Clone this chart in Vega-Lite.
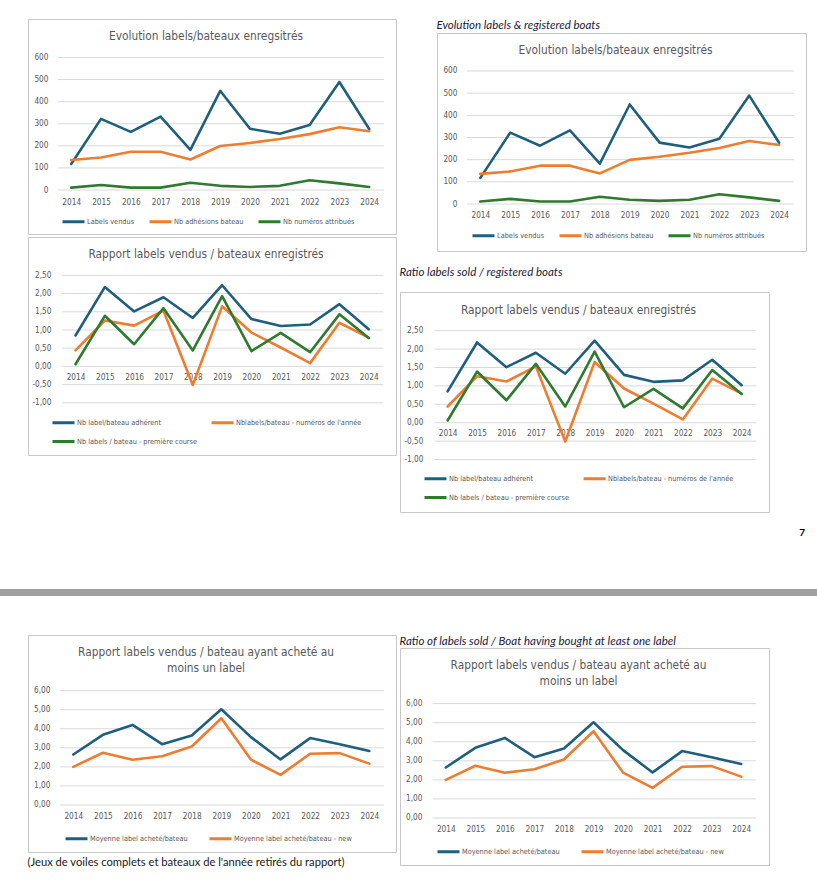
{
  "$schema": "https://vega.github.io/schema/vega-lite/v6.json",
  "background": "white",
  "padding": {"left": 0, "top": 18, "right": 0, "bottom": 0},
  "spacing": 38,
  "resolve": {"scale": {"color": "independent"}, "legend": {"color": "independent"}},
  "datasets": {
    "evo": [
      {"year": 2014, "series": "Labels vendus", "value": 118},
      {"year": 2015, "series": "Labels vendus", "value": 322},
      {"year": 2016, "series": "Labels vendus", "value": 263},
      {"year": 2017, "series": "Labels vendus", "value": 332},
      {"year": 2018, "series": "Labels vendus", "value": 182},
      {"year": 2019, "series": "Labels vendus", "value": 449},
      {"year": 2020, "series": "Labels vendus", "value": 277},
      {"year": 2021, "series": "Labels vendus", "value": 255},
      {"year": 2022, "series": "Labels vendus", "value": 294},
      {"year": 2023, "series": "Labels vendus", "value": 489},
      {"year": 2024, "series": "Labels vendus", "value": 276},
      {"year": 2014, "series": "Nb adhésions bateau", "value": 136},
      {"year": 2015, "series": "Nb adhésions bateau", "value": 147},
      {"year": 2016, "series": "Nb adhésions bateau", "value": 173},
      {"year": 2017, "series": "Nb adhésions bateau", "value": 173},
      {"year": 2018, "series": "Nb adhésions bateau", "value": 138},
      {"year": 2019, "series": "Nb adhésions bateau", "value": 199},
      {"year": 2020, "series": "Nb adhésions bateau", "value": 213},
      {"year": 2021, "series": "Nb adhésions bateau", "value": 231},
      {"year": 2022, "series": "Nb adhésions bateau", "value": 253},
      {"year": 2023, "series": "Nb adhésions bateau", "value": 284},
      {"year": 2024, "series": "Nb adhésions bateau", "value": 266},
      {"year": 2014, "series": "Nb numéros attribués", "value": 11},
      {"year": 2015, "series": "Nb numéros attribués", "value": 23},
      {"year": 2016, "series": "Nb numéros attribués", "value": 11},
      {"year": 2017, "series": "Nb numéros attribués", "value": 11},
      {"year": 2018, "series": "Nb numéros attribués", "value": 33},
      {"year": 2019, "series": "Nb numéros attribués", "value": 19},
      {"year": 2020, "series": "Nb numéros attribués", "value": 14},
      {"year": 2021, "series": "Nb numéros attribués", "value": 19},
      {"year": 2022, "series": "Nb numéros attribués", "value": 44},
      {"year": 2023, "series": "Nb numéros attribués", "value": 30},
      {"year": 2024, "series": "Nb numéros attribués", "value": 14}
    ],
    "ratio": [
      {"year": 2014, "series": "Nb label/bateau adhérent", "value": 0.85},
      {"year": 2015, "series": "Nb label/bateau adhérent", "value": 2.18},
      {"year": 2016, "series": "Nb label/bateau adhérent", "value": 1.51},
      {"year": 2017, "series": "Nb label/bateau adhérent", "value": 1.9},
      {"year": 2018, "series": "Nb label/bateau adhérent", "value": 1.33},
      {"year": 2019, "series": "Nb label/bateau adhérent", "value": 2.23},
      {"year": 2020, "series": "Nb label/bateau adhérent", "value": 1.3},
      {"year": 2021, "series": "Nb label/bateau adhérent", "value": 1.11},
      {"year": 2022, "series": "Nb label/bateau adhérent", "value": 1.15},
      {"year": 2023, "series": "Nb label/bateau adhérent", "value": 1.71},
      {"year": 2024, "series": "Nb label/bateau adhérent", "value": 1.02},
      {"year": 2014, "series": "Nblabels/bateau - numéros de l'année", "value": 0.44},
      {"year": 2015, "series": "Nblabels/bateau - numéros de l'année", "value": 1.26},
      {"year": 2016, "series": "Nblabels/bateau - numéros de l'année", "value": 1.12},
      {"year": 2017, "series": "Nblabels/bateau - numéros de l'année", "value": 1.53},
      {"year": 2018, "series": "Nblabels/bateau - numéros de l'année", "value": -0.51},
      {"year": 2019, "series": "Nblabels/bateau - numéros de l'année", "value": 1.65},
      {"year": 2020, "series": "Nblabels/bateau - numéros de l'année", "value": 0.93},
      {"year": 2021, "series": "Nblabels/bateau - numéros de l'année", "value": 0.52},
      {"year": 2022, "series": "Nblabels/bateau - numéros de l'année", "value": 0.09},
      {"year": 2023, "series": "Nblabels/bateau - numéros de l'année", "value": 1.2},
      {"year": 2024, "series": "Nblabels/bateau - numéros de l'année", "value": 0.79},
      {"year": 2014, "series": "Nb labels / bateau - première course", "value": 0.06},
      {"year": 2015, "series": "Nb labels / bateau - première course", "value": 1.39},
      {"year": 2016, "series": "Nb labels / bateau - première course", "value": 0.61},
      {"year": 2017, "series": "Nb labels / bateau - première course", "value": 1.6},
      {"year": 2018, "series": "Nb labels / bateau - première course", "value": 0.44},
      {"year": 2019, "series": "Nb labels / bateau - première course", "value": 1.93},
      {"year": 2020, "series": "Nb labels / bateau - première course", "value": 0.42},
      {"year": 2021, "series": "Nb labels / bateau - première course", "value": 0.92},
      {"year": 2022, "series": "Nb labels / bateau - première course", "value": 0.39},
      {"year": 2023, "series": "Nb labels / bateau - première course", "value": 1.43},
      {"year": 2024, "series": "Nb labels / bateau - première course", "value": 0.78}
    ],
    "avg": [
      {"year": 2014, "series": "Moyenne label acheté/bateau", "value": 2.65},
      {"year": 2015, "series": "Moyenne label acheté/bateau", "value": 3.68},
      {"year": 2016, "series": "Moyenne label acheté/bateau", "value": 4.2},
      {"year": 2017, "series": "Moyenne label acheté/bateau", "value": 3.19},
      {"year": 2018, "series": "Moyenne label acheté/bateau", "value": 3.65},
      {"year": 2019, "series": "Moyenne label acheté/bateau", "value": 5.02},
      {"year": 2020, "series": "Moyenne label acheté/bateau", "value": 3.56},
      {"year": 2021, "series": "Moyenne label acheté/bateau", "value": 2.39},
      {"year": 2022, "series": "Moyenne label acheté/bateau", "value": 3.51},
      {"year": 2023, "series": "Moyenne label acheté/bateau", "value": 3.19},
      {"year": 2024, "series": "Moyenne label acheté/bateau", "value": 2.83},
      {"year": 2014, "series": "Moyenne label acheté/bateau - new", "value": 2.0},
      {"year": 2015, "series": "Moyenne label acheté/bateau - new", "value": 2.74},
      {"year": 2016, "series": "Moyenne label acheté/bateau - new", "value": 2.37},
      {"year": 2017, "series": "Moyenne label acheté/bateau - new", "value": 2.56},
      {"year": 2018, "series": "Moyenne label acheté/bateau - new", "value": 3.07},
      {"year": 2019, "series": "Moyenne label acheté/bateau - new", "value": 4.55},
      {"year": 2020, "series": "Moyenne label acheté/bateau - new", "value": 2.38},
      {"year": 2021, "series": "Moyenne label acheté/bateau - new", "value": 1.58},
      {"year": 2022, "series": "Moyenne label acheté/bateau - new", "value": 2.69},
      {"year": 2023, "series": "Moyenne label acheté/bateau - new", "value": 2.72},
      {"year": 2024, "series": "Moyenne label acheté/bateau - new", "value": 2.17}
    ],
    "gridA": [{"v": 0}, {"v": 100}, {"v": 200}, {"v": 300}, {"v": 400}, {"v": 500}, {"v": 600}],
    "gridB": [{"v": -1}, {"v": -0.5}, {"v": 0}, {"v": 0.5}, {"v": 1}, {"v": 1.5}, {"v": 2}, {"v": 2.5}],
    "gridC": [{"v": 0}, {"v": 1}, {"v": 2}, {"v": 3}, {"v": 4}, {"v": 5}, {"v": 6}],
    "empty": []
  },
  "vconcat": [
    {
      "spacing": 2,
      "resolve": {"scale": {"color": "independent"}, "legend": {"color": "independent"}},
      "hconcat": [
        {"width": 25, "height": 1, "view": {"stroke": null}, "data": {"name": "empty"}, "mark": "text", "encoding": {}},
        {
          "spacing": 1,
          "resolve": {"scale": {"color": "independent"}, "legend": {"color": "independent"}},
          "vconcat": [
            {
              "width": 368, "height": 215,
              "title": {"text": "Evolution labels/bateaux enregsitrés", "offset": -24, "dx": -6},
              "layer": [
                {"data": {"name": "gridA"}, "mark": {"type": "rule", "color": "#D9D9D9", "strokeWidth": 1},
                 "encoding": {
                   "y": {"field": "v", "type": "quantitative", "title": null, "scale": {"domain": [-199, 774], "nice": false, "zero": false}, "axis": {"values": [0, 100, 200, 300, 400, 500, 600], "offset": -30, "labelPadding": 10, "labelOverlap": false}},
                   "x": {"datum": 2013.55, "type": "quantitative", "title": null, "scale": {"domain": [2012.55, 2024.9], "nice": false, "zero": false}, "axis": {"values": [2014, 2015, 2016, 2017, 2018, 2019, 2020, 2021, 2022, 2023, 2024], "format": "d", "offset": -44, "labelPadding": 8, "labelOverlap": false}},
                   "x2": {"datum": 2024.5}
                 }},
                {"data": {"name": "evo"}, "mark": {"type": "line", "strokeWidth": 2.6, "strokeJoin": "round", "strokeCap": "round"},
                 "encoding": {
                   "x": {"field": "year", "type": "quantitative", "title": null, "axis": {"values": [2014, 2015, 2016, 2017, 2018, 2019, 2020, 2021, 2022, 2023, 2024], "format": "d", "offset": -44, "labelPadding": 8, "labelOverlap": false}},
                   "y": {"field": "value", "type": "quantitative", "title": null, "axis": {"values": [0, 100, 200, 300, 400, 500, 600], "offset": -30, "labelPadding": 10, "labelOverlap": false}},
                   "color": {"field": "series", "type": "nominal", "scale": {"domain": ["Labels vendus", "Nb adhésions bateau", "Nb numéros attribués"], "range": ["#1F5F7E", "#ED7D31", "#2E7A2E"]},
                     "legend": {"orient": "none", "legendX": 33, "legendY": 190, "columns": 3, "columnPadding": 8, "direction": "horizontal"}}
                 }}
              ]
            },
            {
              "width": 368, "height": 218,
              "title": {"text": "Rapport labels vendus / bateaux enregistrés", "offset": -24, "dx": -6},
              "layer": [
                {"data": {"name": "gridB"}, "mark": {"type": "rule", "color": "#D9D9D9", "strokeWidth": 1},
                 "encoding": {
                   "y": {"field": "v", "type": "quantitative", "title": null, "scale": {"domain": [-2.434, 3.555], "nice": false, "zero": false}, "axis": {"values": [-1, -0.5, 0, 0.5, 1, 1.5, 2, 2.5], "offset": -34, "labelPadding": 11, "labelOverlap": false, "labelExpr": "replace(replace(format(datum.value, '.2f'), '.', ','), '−', '-')"}},
                   "x": {"datum": 2013.55, "type": "quantitative", "title": null, "scale": {"domain": [2012.38, 2024.93], "nice": false, "zero": false}, "axis": {"values": [2014, 2015, 2016, 2017, 2018, 2019, 2020, 2021, 2022, 2023, 2024], "format": "d", "offset": -88.6, "labelPadding": 7, "labelOverlap": false}},
                   "x2": {"datum": 2024.5}
                 }},
                {"data": {"name": "ratio"}, "mark": {"type": "line", "strokeWidth": 2.6, "strokeJoin": "round", "strokeCap": "round"},
                 "encoding": {
                   "x": {"field": "year", "type": "quantitative", "title": null, "axis": {"values": [2014, 2015, 2016, 2017, 2018, 2019, 2020, 2021, 2022, 2023, 2024], "format": "d", "offset": -88.6, "labelPadding": 7, "labelOverlap": false}},
                   "y": {"field": "value", "type": "quantitative", "title": null, "axis": {"values": [-1, -0.5, 0, 0.5, 1, 1.5, 2, 2.5], "offset": -34, "labelPadding": 11, "labelOverlap": false, "labelExpr": "replace(replace(format(datum.value, '.2f'), '.', ','), '−', '-')"}},
                   "color": {"field": "series", "type": "nominal", "scale": {"domain": ["Nb label/bateau adhérent", "Nblabels/bateau - numéros de l'année", "Nb labels / bateau - première course"], "range": ["#1F5F7E", "#ED7D31", "#2E7A2E"]},
                     "legend": {"orient": "none", "legendX": 23, "legendY": 173, "columns": 2, "columnPadding": 8, "direction": "horizontal"}}
                 }}
              ]
            }
          ]
        },
        {
          "spacing": 15,
          "resolve": {"scale": {"color": "independent"}, "legend": {"color": "independent"}},
          "vconcat": [
            {
              "spacing": 0,
              "resolve": {"scale": {"color": "independent"}, "legend": {"color": "independent"}},
              "vconcat": [
                {"width": 405, "height": 1, "view": {"stroke": null}, "data": {"name": "empty"}, "mark": "text", "encoding": {}},
                {
                  "spacing": 6,
                  "resolve": {"scale": {"color": "independent"}, "legend": {"color": "independent"}},
                  "hconcat": [
                    {"width": 30, "height": 1, "view": {"stroke": null}, "data": {"name": "empty"}, "mark": "text", "encoding": {}},
                    {
                      "spacing": 0,
                      "title": {"text": "Evolution labels & registered boats", "anchor": "start", "font": "Lato", "fontStyle": "italic", "fontSize": 11.5, "fontWeight": "normal", "color": "#1a1a3a", "offset": 1},
                      "vconcat": [
                        {
                          "width": 369, "height": 218,
                          "title": {"text": "Evolution labels/bateaux enregsitrés", "offset": -24, "dx": -6},
                          "layer": [
                            {"data": {"name": "gridA"}, "mark": {"type": "rule", "color": "#D9D9D9", "strokeWidth": 1},
                             "encoding": {
                               "y": {"field": "v", "type": "quantitative", "title": null, "scale": {"domain": [-212, 771.4], "nice": false, "zero": false}, "axis": {"values": [0, 100, 200, 300, 400, 500, 600], "offset": -30, "labelPadding": 10, "labelOverlap": false}},
                               "x": {"datum": 2013.55, "type": "quantitative", "title": null, "scale": {"domain": [2012.55, 2024.9], "nice": false, "zero": false}, "axis": {"values": [2014, 2015, 2016, 2017, 2018, 2019, 2020, 2021, 2022, 2023, 2024], "format": "d", "offset": -47, "labelPadding": 7, "labelOverlap": false}},
                               "x2": {"datum": 2024.5}
                             }},
                            {"data": {"name": "evo"}, "mark": {"type": "line", "strokeWidth": 2.6, "strokeJoin": "round", "strokeCap": "round"},
                             "encoding": {
                               "x": {"field": "year", "type": "quantitative", "title": null, "axis": {"values": [2014, 2015, 2016, 2017, 2018, 2019, 2020, 2021, 2022, 2023, 2024], "format": "d", "offset": -47, "labelPadding": 7, "labelOverlap": false}},
                               "y": {"field": "value", "type": "quantitative", "title": null, "axis": {"values": [0, 100, 200, 300, 400, 500, 600], "offset": -30, "labelPadding": 10, "labelOverlap": false}},
                               "color": {"field": "series", "type": "nominal", "scale": {"domain": ["Labels vendus", "Nb adhésions bateau", "Nb numéros attribués"], "range": ["#1F5F7E", "#ED7D31", "#2E7A2E"]},
                                 "legend": {"orient": "none", "legendX": 34, "legendY": 190, "columns": 3, "columnPadding": 8, "direction": "horizontal"}}
                             }}
                          ]
                        }
                      ]
                    }
                  ]
                }
              ]
            },
            {
              "spacing": 0,
              "title": {"text": "Ratio labels sold / registered boats", "anchor": "start", "font": "Lato", "fontStyle": "italic", "fontSize": 11.5, "fontWeight": "normal", "color": "#1a1a3a", "offset": 13},
              "vconcat": [
                {
                  "width": 369, "height": 220,
                  "title": {"text": "Rapport labels vendus / bateaux enregistrés", "offset": -25, "dx": -6},
                  "layer": [
                    {"data": {"name": "gridB"}, "mark": {"type": "rule", "color": "#D9D9D9", "strokeWidth": 1},
                     "encoding": {
                       "y": {"field": "v", "type": "quantitative", "title": null, "scale": {"domain": [-2.427, 3.552], "nice": false, "zero": false}, "axis": {"values": [-1, -0.5, 0, 0.5, 1, 1.5, 2, 2.5], "offset": -34, "labelPadding": 11, "labelOverlap": false, "labelExpr": "replace(replace(format(datum.value, '.2f'), '.', ','), '−', '-')"}},
                       "x": {"datum": 2013.55, "type": "quantitative", "title": null, "scale": {"domain": [2012.38, 2024.93], "nice": false, "zero": false}, "axis": {"values": [2014, 2015, 2016, 2017, 2018, 2019, 2020, 2021, 2022, 2023, 2024], "format": "d", "offset": -89.3, "labelPadding": 7, "labelOverlap": false}},
                       "x2": {"datum": 2024.5}
                     }},
                    {"data": {"name": "ratio"}, "mark": {"type": "line", "strokeWidth": 2.6, "strokeJoin": "round", "strokeCap": "round"},
                     "encoding": {
                       "x": {"field": "year", "type": "quantitative", "title": null, "axis": {"values": [2014, 2015, 2016, 2017, 2018, 2019, 2020, 2021, 2022, 2023, 2024], "format": "d", "offset": -89.3, "labelPadding": 7, "labelOverlap": false}},
                       "y": {"field": "value", "type": "quantitative", "title": null, "axis": {"values": [-1, -0.5, 0, 0.5, 1, 1.5, 2, 2.5], "offset": -34, "labelPadding": 11, "labelOverlap": false, "labelExpr": "replace(replace(format(datum.value, '.2f'), '.', ','), '−', '-')"}},
                       "color": {"field": "series", "type": "nominal", "scale": {"domain": ["Nb label/bateau adhérent", "Nblabels/bateau - numéros de l'année", "Nb labels / bateau - première course"], "range": ["#1F5F7E", "#ED7D31", "#2E7A2E"]},
                         "legend": {"orient": "none", "legendX": 23, "legendY": 174, "columns": 2, "columnPadding": 8, "direction": "horizontal"}}
                     }}
                  ]
                }
              ]
            },
            {"width": 405, "height": 11, "view": {"stroke": null}, "data": {"name": "empty"}, "mark": "text", "encoding": {},
             "title": {"text": "7", "anchor": "end", "font": "Lato", "fontSize": 10, "fontWeight": "bold", "color": "#000000", "offset": 2}}
          ]
        }
      ]
    },
    {"width": 817, "height": 7, "view": {"stroke": null, "fill": "#A0A0A0"}, "data": {"name": "empty"}, "mark": "text", "encoding": {}},
    {
      "spacing": 2,
      "resolve": {"scale": {"color": "independent"}, "legend": {"color": "independent"}},
      "hconcat": [
        {"width": 25, "height": 1, "view": {"stroke": null}, "data": {"name": "empty"}, "mark": "text", "encoding": {}},
        {
          "spacing": 0,
          "title": {"text": "(Jeux de voiles complets et bateaux de l'année retirés du rapport)", "orient": "bottom", "anchor": "start", "font": "Lato", "fontStyle": "normal", "fontSize": 11.2, "fontWeight": "normal", "color": "#1a1a1a", "offset": 4},
          "vconcat": [
            {
              "width": 368, "height": 217,
              "title": {"text": ["Rapport labels vendus / bateau ayant acheté au", "moins un label"], "lineHeight": 16.7, "offset": -40, "dx": -6},
              "layer": [
                {"data": {"name": "gridC"}, "mark": {"type": "rule", "color": "#D9D9D9", "strokeWidth": 1},
                 "encoding": {
                   "y": {"field": "v", "type": "quantitative", "title": null, "scale": {"domain": [-2.466, 8.917], "nice": false, "zero": false}, "axis": {"values": [0, 1, 2, 3, 4, 5, 6], "offset": -32, "labelPadding": 10, "labelOverlap": false, "labelExpr": "replace(replace(format(datum.value, '.2f'), '.', ','), '−', '-')"}},
                   "x": {"datum": 2013.55, "type": "quantitative", "title": null, "scale": {"domain": [2012.47, 2024.9], "nice": false, "zero": false}, "axis": {"values": [2014, 2015, 2016, 2017, 2018, 2019, 2020, 2021, 2022, 2023, 2024], "format": "d", "offset": -47, "labelPadding": 7, "labelOverlap": false}},
                   "x2": {"datum": 2024.5}
                 }},
                {"data": {"name": "avg"}, "mark": {"type": "line", "strokeWidth": 2.6, "strokeJoin": "round", "strokeCap": "round"},
                 "encoding": {
                   "x": {"field": "year", "type": "quantitative", "title": null, "axis": {"values": [2014, 2015, 2016, 2017, 2018, 2019, 2020, 2021, 2022, 2023, 2024], "format": "d", "offset": -47, "labelPadding": 7, "labelOverlap": false}},
                   "y": {"field": "value", "type": "quantitative", "title": null, "axis": {"values": [0, 1, 2, 3, 4, 5, 6], "offset": -32, "labelPadding": 10, "labelOverlap": false, "labelExpr": "replace(replace(format(datum.value, '.2f'), '.', ','), '−', '-')"}},
                   "color": {"field": "series", "type": "nominal", "scale": {"domain": ["Moyenne label acheté/bateau", "Moyenne label acheté/bateau - new"], "range": ["#1F5F7E", "#ED7D31"]},
                     "legend": {"orient": "none", "legendX": 36, "legendY": 191, "columns": 2, "columnPadding": 15, "direction": "horizontal"}}
                 }}
              ]
            }
          ]
        },
        {
          "spacing": 0,
          "resolve": {"scale": {"color": "independent"}, "legend": {"color": "independent"}},
          "vconcat": [
            {"width": 369, "height": 1, "view": {"stroke": null}, "data": {"name": "empty"}, "mark": "text", "encoding": {}},
            {
              "spacing": 0,
              "title": {"text": "Ratio of labels sold / Boat having bought at least one label", "anchor": "start", "font": "Lato", "fontStyle": "italic", "fontSize": 11.5, "fontWeight": "normal", "color": "#1a1a3a", "offset": 0},
              "vconcat": [
                {
                  "width": 369, "height": 217,
                  "title": {"text": ["Rapport labels vendus / bateau ayant acheté au", "moins un label"], "lineHeight": 16.7, "offset": -40, "dx": -6},
                  "layer": [
                    {"data": {"name": "gridC"}, "mark": {"type": "rule", "color": "#D9D9D9", "strokeWidth": 1},
                     "encoding": {
                       "y": {"field": "v", "type": "quantitative", "title": null, "scale": {"domain": [-2.466, 8.917], "nice": false, "zero": false}, "axis": {"values": [0, 1, 2, 3, 4, 5, 6], "offset": -32, "labelPadding": 10, "labelOverlap": false, "labelExpr": "replace(replace(format(datum.value, '.2f'), '.', ','), '−', '-')"}},
                       "x": {"datum": 2013.55, "type": "quantitative", "title": null, "scale": {"domain": [2012.45, 2024.94], "nice": false, "zero": false}, "axis": {"values": [2014, 2015, 2016, 2017, 2018, 2019, 2020, 2021, 2022, 2023, 2024], "format": "d", "offset": -47, "labelPadding": 7, "labelOverlap": false}},
                       "x2": {"datum": 2024.5}
                     }},
                    {"data": {"name": "avg"}, "mark": {"type": "line", "strokeWidth": 2.6, "strokeJoin": "round", "strokeCap": "round"},
                     "encoding": {
                       "x": {"field": "year", "type": "quantitative", "title": null, "axis": {"values": [2014, 2015, 2016, 2017, 2018, 2019, 2020, 2021, 2022, 2023, 2024], "format": "d", "offset": -47, "labelPadding": 7, "labelOverlap": false}},
                       "y": {"field": "value", "type": "quantitative", "title": null, "axis": {"values": [0, 1, 2, 3, 4, 5, 6], "offset": -32, "labelPadding": 10, "labelOverlap": false, "labelExpr": "replace(replace(format(datum.value, '.2f'), '.', ','), '−', '-')"}},
                       "color": {"field": "series", "type": "nominal", "scale": {"domain": ["Moyenne label acheté/bateau", "Moyenne label acheté/bateau - new"], "range": ["#1F5F7E", "#ED7D31"]},
                         "legend": {"orient": "none", "legendX": 36, "legendY": 191, "columns": 2, "columnPadding": 15, "direction": "horizontal"}}
                     }}
                  ]
                }
              ]
            }
          ]
        }
      ]
    }
  ],
  "config": {
    "font": "Liberation Sans Narrow, DejaVu Sans Condensed, Roboto, sans-serif",
    "view": {"stroke": "#C8C8C8", "strokeWidth": 1},
    "axis": {"domain": false, "ticks": false, "tickSize": 0, "grid": false, "labelOverlap": false, "labelFont": "Liberation Sans Narrow, DejaVu Sans Condensed, Roboto, sans-serif", "labelFontSize": 8.2, "labelColor": "#595959"},
    "legend": {"symbolType": "stroke", "symbolSize": 484, "symbolStrokeWidth": 3, "labelFont": "Liberation Sans Narrow, DejaVu Sans Condensed, Roboto, sans-serif", "labelFontSize": 7.3, "labelColor": "#595959", "labelOffset": 1, "rowPadding": -3, "padding": 0, "title": null, "labelLimit": 300},
    "title": {"font": "Liberation Sans Narrow, DejaVu Sans Condensed, Roboto, sans-serif", "fontSize": 11.8, "fontWeight": "normal", "color": "#595959", "anchor": "middle"}
  }
}
